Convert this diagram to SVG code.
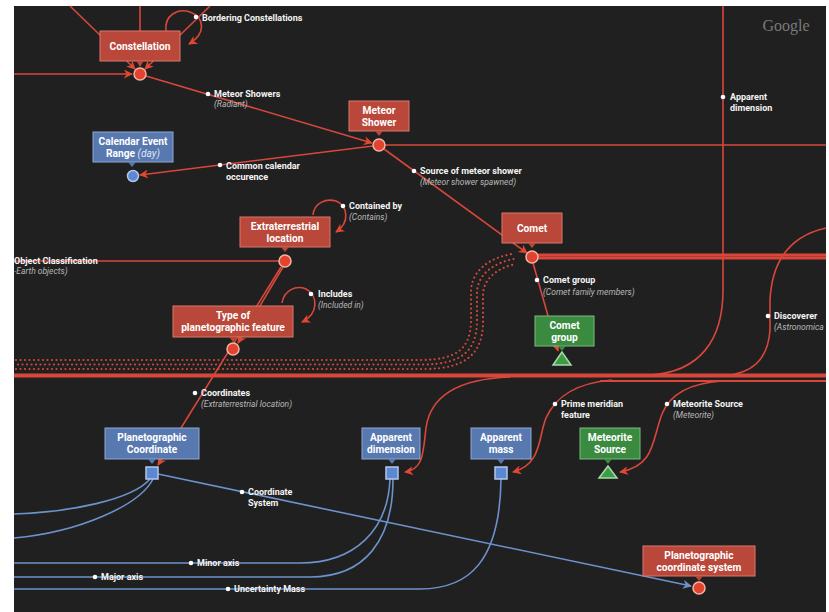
<svg xmlns="http://www.w3.org/2000/svg" width="829" height="612" viewBox="0 0 829 612">
<defs>
<style>
.bg{fill:#202020}
.r{fill:none;stroke:#d8473a;stroke-width:1.6}
.b{fill:none;stroke:#6c92cc;stroke-width:1.6}
.dots{fill:none;stroke:#d0493c;stroke-width:2.2;stroke-linecap:round;stroke-dasharray:0 4.5}
.boxr{fill:#b9473a;stroke:#d9796c;stroke-width:1}
.boxb{fill:#5878b0;stroke:#8ea8d4;stroke-width:1}
.boxg{fill:#3a8a40;stroke:#7cbb80;stroke-width:1}
.nt{font-family:Roboto,"Liberation Sans",sans-serif;font-weight:700;font-size:10.2px;fill:#ffffff;text-anchor:middle}
.ni{font-weight:400;font-style:italic;fill:#dfe6f5}
.cr{fill:#e2432f;stroke:#f3b3a6;stroke-width:1.5}
.cb{fill:#5b88d2;stroke:#b3c6ea;stroke-width:1.5}
.tg{fill:#3c9d46;stroke:#a8d8ab;stroke-width:1.5}
.lt{font-family:Roboto,"Liberation Sans",sans-serif;font-weight:700;font-size:9px;fill:#f4f4f4}
.ls{font-family:Roboto,"Liberation Sans",sans-serif;font-style:italic;font-size:8.5px;fill:#b8b8b8}
.ld{fill:#ffffff}
</style>
<marker id="ar" viewBox="0 0 10 10" refX="9" refY="5" markerWidth="9" markerHeight="9" markerUnits="userSpaceOnUse" orient="auto">
<path d="M0,0 L10,5 L0,10 L3,5 z" fill="#e0482f"/>
</marker>
<marker id="ab" viewBox="0 0 10 10" refX="9" refY="5" markerWidth="9" markerHeight="9" markerUnits="userSpaceOnUse" orient="auto">
<path d="M0,0 L10,5 L0,10 L3,5 z" fill="#6c92cc"/>
</marker>
</defs>
<rect x="0" y="0" width="829" height="612" fill="#ffffff"/>
<rect class="bg" x="14" y="6" width="812" height="606"/>
<text x="786" y="31" font-family="'Liberation Serif',serif" font-size="16" fill="#7a7a7a" text-anchor="middle">Google</text>

<g id="connectors">
<!-- dotted swoosh -->
<path class="dots" d="M16,360 H420 C458,360 470,348 471,322 V292 C471,272 488,258 512,254"/>
<path class="dots" d="M18,364.5 H422 C463,364.5 476,350 477,323 V293 C477,276 492,263 514,259"/>
<path class="dots" d="M16,369 H424 C468,369 482,352 483,324 V295 C483,280 496,268 516,264"/>
<!-- bands -->
<path d="M14,375.5 H826" fill="none" stroke="#d8473a" stroke-width="4"/>
<path d="M600,381 H826" fill="none" stroke="#d8473a" stroke-width="2"/>
<path d="M538,256.5 H826" fill="none" stroke="#d8473a" stroke-width="6"/>
<path d="M538,256.5 H826" fill="none" stroke="#a8382e" stroke-width="0.8"/>
<!-- constellation -->
<path class="r" d="M70,6 L135,69" marker-end="url(#ar)"/>
<path class="r" d="M140,6 V66" marker-end="url(#ar)"/>
<path class="r" d="M210,6 L145,69" marker-end="url(#ar)"/>
<path class="r" d="M14,74 H132" marker-end="url(#ar)"/>
<path class="r" d="M166,31 C164,15 178,8 190,12 C204,17 207,33 189,44" marker-end="url(#ar)"/>
<path class="r" d="M146,76 L372,143" marker-end="url(#ar)"/>
<path class="r" d="M385,145 H826"/>
<path class="r" d="M373,146 L140,175" marker-end="url(#ar)"/>
<path class="r" d="M384,149 L527,253" marker-end="url(#ar)"/>
<path class="r" d="M723,6 V290 C723,340 700,372 650,375"/>
<path class="r" d="M826,228 C790,236 772,260 770,300 V330 C768,360 752,374 722,376"/>
<!-- extraterrestrial -->
<path class="r" d="M313,215 C314,203 326,198 336,201 C347,205 351,222 336,232" marker-end="url(#ar)"/>
<path class="r" d="M14,261 H279"/>
<path class="r" d="M283,267 L238,343" marker-end="url(#ar)"/>
<path class="r" d="M281,267 L158,465" marker-end="url(#ar)"/>
<path class="r" d="M282,303 C284,290 296,285 306,289 C318,295 319,314 302,322" marker-end="url(#ar)"/>
<path class="r" d="M533,263 L558,351" marker-end="url(#ar)"/>
<!-- lower red curves -->
<path class="r" d="M510,377 C455,379 430,398 426,428 C423,452 424,469 405,472" marker-end="url(#ar)"/>
<path class="r" d="M612,380 C576,383 556,396 546,418 C538,438 542,464 513,472" marker-end="url(#ar)"/>
<path class="r" d="M722,381 C690,383 670,394 662,414 C652,440 655,466 620,472" marker-end="url(#ar)"/>
<!-- blue -->
<path class="b" d="M158,474 L691,586" marker-end="url(#ab)"/>
<path class="b" d="M150,479 C132,500 70,512 14,514"/>
<path class="b" d="M153,479 C140,505 80,532 14,538"/>
<path class="b" d="M14,563 H300 C355,563 388,530 390,479"/>
<path class="b" d="M14,577 H310 C365,577 393,540 393,479"/>
<path class="b" d="M14,589 H420 C470,589 500,560 501,479"/>
</g>

<g id="labels">
<circle class="ld" cx="196" cy="17" r="2.3"/><text class="lt" x="202" y="21">Bordering Constellations</text>
<circle class="ld" cx="208" cy="94" r="2.3"/><text class="lt" x="214" y="97">Meteor Showers</text><text class="ls" x="214" y="107">(Radiant)</text>
<circle class="ld" cx="220" cy="165" r="2.3"/><text class="lt" x="226" y="169">Common calendar</text><text class="lt" x="226" y="180">occurence</text>
<circle class="ld" cx="414" cy="171" r="2.3"/><text class="lt" x="420" y="174">Source of meteor shower</text><text class="ls" x="420" y="185">(Meteor shower spawned)</text>
<circle class="ld" cx="723" cy="97" r="2.3"/><text class="lt" x="730" y="100">Apparent</text><text class="lt" x="730" y="111">dimension</text>
<circle class="ld" cx="343" cy="206" r="2.3"/><text class="lt" x="349" y="209">Contained by</text><text class="ls" x="349" y="220">(Contains)</text>
<text class="lt" x="14" y="264">Object Classification</text><text class="ls" x="14" y="274">-Earth objects)</text>
<circle class="ld" cx="311" cy="294" r="2.3"/><text class="lt" x="318" y="297">Includes</text><text class="ls" x="318" y="308">(Included in)</text>
<circle class="ld" cx="537" cy="280" r="2.3"/><text class="lt" x="543" y="283">Comet group</text><text class="ls" x="543" y="295">(Comet family members)</text>
<circle class="ld" cx="768" cy="316" r="2.3"/><text class="lt" x="774" y="319">Discoverer</text><text class="ls" x="774" y="330">(Astronomica</text>
<circle class="ld" cx="195" cy="393" r="2.3"/><text class="lt" x="201" y="396">Coordinates</text><text class="ls" x="201" y="407">(Extraterrestrial location)</text>
<circle class="ld" cx="555" cy="404" r="2.3"/><text class="lt" x="561" y="407">Prime meridian</text><text class="lt" x="561" y="418">feature</text>
<circle class="ld" cx="667" cy="404" r="2.3"/><text class="lt" x="673" y="407">Meteorite Source</text><text class="ls" x="673" y="418">(Meteorite)</text>
<circle class="ld" cx="242" cy="492" r="2.3"/><text class="lt" x="248" y="495">Coordinate</text><text class="lt" x="248" y="506">System</text>
<circle class="ld" cx="191" cy="563" r="2.3"/><text class="lt" x="197" y="566">Minor axis</text>
<circle class="ld" cx="95" cy="577" r="2.3"/><text class="lt" x="101" y="580">Major axis</text>
<circle class="ld" cx="228" cy="589" r="2.3"/><text class="lt" x="234" y="592">Uncertainty Mass</text>
</g>

<g id="constellation">
<rect class="boxr" x="100" y="31" width="80" height="30"/>
<path d="M136,61 L144,61 L140,66 z" fill="#b9473a"/>
<text class="nt" x="140" y="50">Constellation</text>
<circle class="cr" cx="140" cy="74" r="6"/>
</g>
<g id="meteor-shower">
<rect class="boxr" x="349" y="101" width="60" height="30"/>
<path d="M375,131 L383,131 L379,136 z" fill="#b9473a"/>
<text class="nt" x="379" y="113.5">Meteor</text>
<text class="nt" x="379" y="125.5">Shower</text>
<circle class="cr" cx="379" cy="145" r="6"/>
</g>
<g id="calendar-event-range">
<rect class="boxb" x="93" y="132" width="80" height="30"/>
<path d="M128,162 L136,162 L132,167 z" fill="#5878b0"/>
<text class="nt" x="133" y="144.5">Calendar Event</text>
<text class="nt" x="133" y="156.5">Range <tspan class="ni">(day)</tspan></text>
<circle class="cb" cx="133" cy="176" r="5.5"/>
</g>
<g id="extraterrestrial-location">
<rect class="boxr" x="240" y="217" width="90" height="30"/>
<path d="M281,247 L289,247 L285,252 z" fill="#b9473a"/>
<text class="nt" x="285" y="229.5">Extraterrestrial</text>
<text class="nt" x="285" y="241.5">location</text>
<circle class="cr" cx="285" cy="261" r="6"/>
</g>
<g id="type-of-planetographic-feature">
<rect class="boxr" x="173" y="306" width="120" height="31"/>
<path d="M229,337 L237,337 L233,342 z" fill="#b9473a"/>
<text class="nt" x="233" y="318.5">Type of</text>
<text class="nt" x="233" y="330.5">planetographic feature</text>
<circle class="cr" cx="233" cy="349" r="6"/>
</g>
<g id="comet">
<rect class="boxr" x="502" y="213" width="60" height="30"/>
<path d="M528,243 L536,243 L532,248 z" fill="#b9473a"/>
<text class="nt" x="532" y="232">Comet</text>
<circle class="cr" cx="532" cy="257" r="6"/>
</g>
<g id="comet-group">
<rect class="boxg" x="535" y="316" width="59" height="30"/>
<path d="M558,346 L566,346 L562,351 z" fill="#3a8a40"/>
<text class="nt" x="564.5" y="328.5">Comet</text>
<text class="nt" x="564.5" y="340.5">group</text>
<polygon class="tg" points="562,352 553,365 571,365"/>
</g>
<g id="planetographic-coordinate">
<rect class="boxb" x="105" y="428" width="94" height="31"/>
<path d="M148,459 L156,459 L152,464 z" fill="#5878b0"/>
<text class="nt" x="152" y="440.5">Planetographic</text>
<text class="nt" x="152" y="452.5">Coordinate</text>
<rect class="cb" x="146" y="467" width="12" height="12"/>
</g>
<g id="apparent-dimension">
<rect class="boxb" x="362" y="428" width="58" height="31"/>
<path d="M388,459 L396,459 L392,464 z" fill="#5878b0"/>
<text class="nt" x="391" y="440.5">Apparent</text>
<text class="nt" x="391" y="452.5">dimension</text>
<rect class="cb" x="386" y="467" width="12" height="12"/>
</g>
<g id="apparent-mass">
<rect class="boxb" x="471" y="428" width="60" height="31"/>
<path d="M497,459 L505,459 L501,464 z" fill="#5878b0"/>
<text class="nt" x="501" y="440.5">Apparent</text>
<text class="nt" x="501" y="452.5">mass</text>
<rect class="cb" x="495" y="467" width="12" height="12"/>
</g>
<g id="meteorite-source">
<rect class="boxg" x="580" y="428" width="60" height="31"/>
<path d="M604,459 L612,459 L608,464 z" fill="#3a8a40"/>
<text class="nt" x="610" y="440.5">Meteorite</text>
<text class="nt" x="610" y="452.5">Source</text>
<polygon class="tg" points="608,466 599,478 617,478"/>
</g>
<g id="planetographic-coordinate-system">
<rect class="boxr" x="643" y="546" width="112" height="30"/>
<path d="M695,576 L703,576 L699,581 z" fill="#b9473a"/>
<text class="nt" x="699" y="558.5">Planetographic</text>
<text class="nt" x="699" y="570.5">coordinate system</text>
<circle class="cr" cx="699" cy="588" r="6"/>
</g>
</svg>
